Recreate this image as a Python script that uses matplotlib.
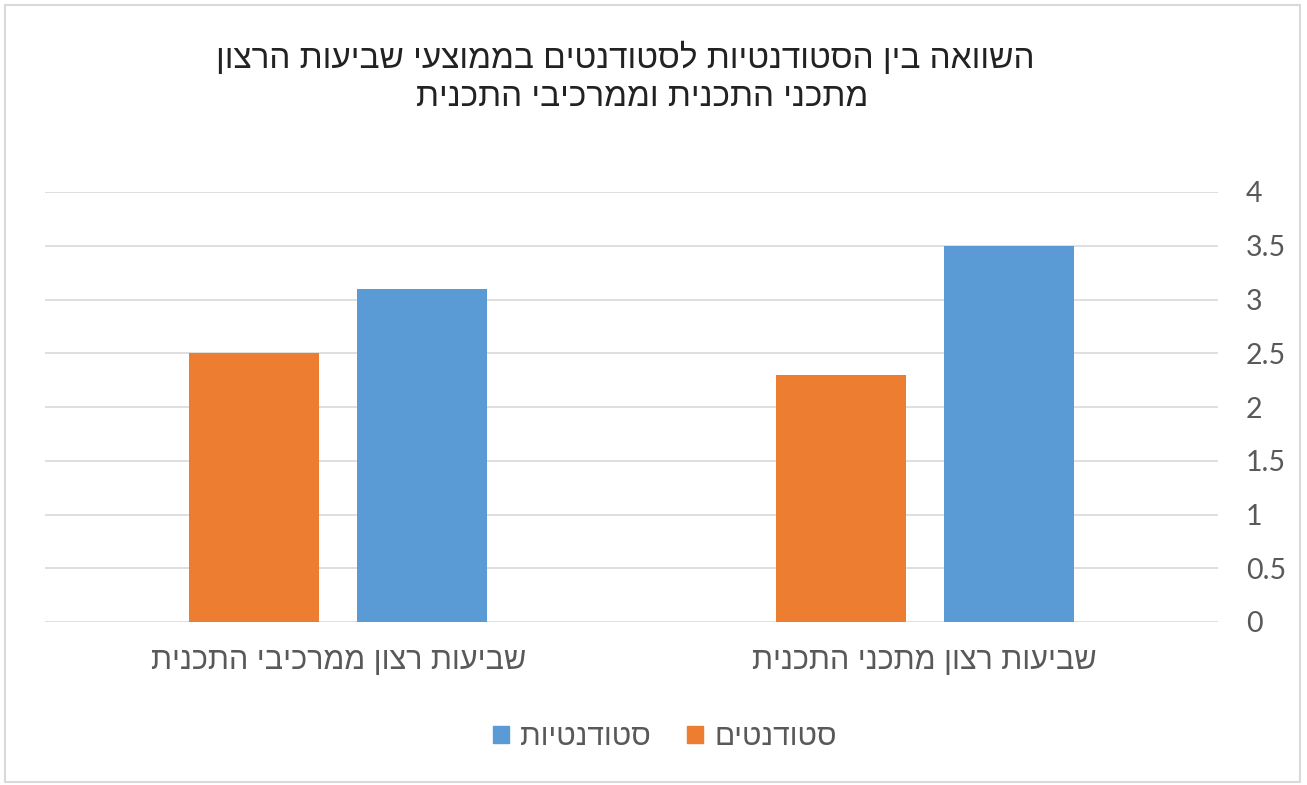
import matplotlib
matplotlib.use("Agg")
import matplotlib.pyplot as plt
from matplotlib.patches import Patch, Rectangle
import numpy as np

# data (logical Hebrew order, reversed for drawing since matplotlib has no bidi)
title_lines = ["השוואה בין הסטודנטיות לסטודנטים בממוצעי שביעות הרצון",
               "מתכני התכנית וממרכיבי התכנית"]
categories = ["שביעות רצון ממרכיבי התכנית", "שביעות רצון מתכני התכנית"]  # left to right
series_names = ["סטודנטים", "סטודנטיות"]
students_m = [2.5, 2.3]
students_f = [3.1, 3.5]
y_ticks = [0, 0.5, 1, 1.5, 2, 2.5, 3, 3.5, 4]

ORANGE = "#ED7D31"
BLUE = "#5B9BD5"
GRID = "#D9D9D9"
TEXT = "#595959"
HEB = ["Liberation Sans", "DejaVu Sans"]
W, H = 1307, 785


def rtl(s):
    """reverse a pure Hebrew string so it reads right-to-left"""
    return s[::-1]


fig = plt.figure(figsize=(W / 100, H / 100), dpi=100)
fig.patches.append(Rectangle((5 / W, 3 / H), 1295 / W, 777 / H,
                             transform=fig.transFigure, fill=False,
                             edgecolor=GRID, linewidth=1.5))

ax = fig.add_axes([45 / W, 163 / H, 1173 / W, 430 / H])
x = np.arange(len(categories))
w = 0.222
off = 0.143
ax.bar(x - off, students_m, w, color=ORANGE, zorder=3)
ax.bar(x + off, students_f, w, color=BLUE, zorder=3)

ax.set_xlim(-0.5, len(categories) - 0.5)
ax.set_ylim(0, 4)
ax.set_yticks(y_ticks)
ax.set_yticklabels([f"{t:g}" for t in y_ticks], fontsize=20.5, color=TEXT,
                   family=["Lato", "DejaVu Sans"])
ax.yaxis.tick_right()
ax.tick_params(axis="y", length=0, pad=20)
ax.set_xticks(x)
ax.set_xticklabels([rtl(c) for c in categories], fontsize=22, color=TEXT,
                   family=HEB)
ax.tick_params(axis="x", length=0, pad=17)
for s in ax.spines.values():
    s.set_visible(False)
ax.yaxis.grid(True, color=GRID, linewidth=1.2, zorder=0)
ax.set_axisbelow(True)

fig.text(625 / W, 1 - 58 / H, rtl(title_lines[0]), ha="center", va="center",
         fontsize=24, color="#222222", family=HEB)
fig.text(642 / W, 1 - 98 / H, rtl(title_lines[1]), ha="center", va="center",
         fontsize=24, color="#222222", family=HEB)

handles = [Patch(color=BLUE, label=rtl(series_names[1])),
           Patch(color=ORANGE, label=rtl(series_names[0]))]
leg = fig.legend(handles=handles, loc="center", bbox_to_anchor=(665 / W, 1 - 737 / H),
                 ncol=2, frameon=False, handlelength=0.52, handleheight=0.52,
                 handletextpad=0.4, columnspacing=1.2,
                 prop={"family": HEB, "size": 21.5})
for t in leg.get_texts():
    t.set_color(TEXT)

fig.savefig("out.png", dpi=100)
